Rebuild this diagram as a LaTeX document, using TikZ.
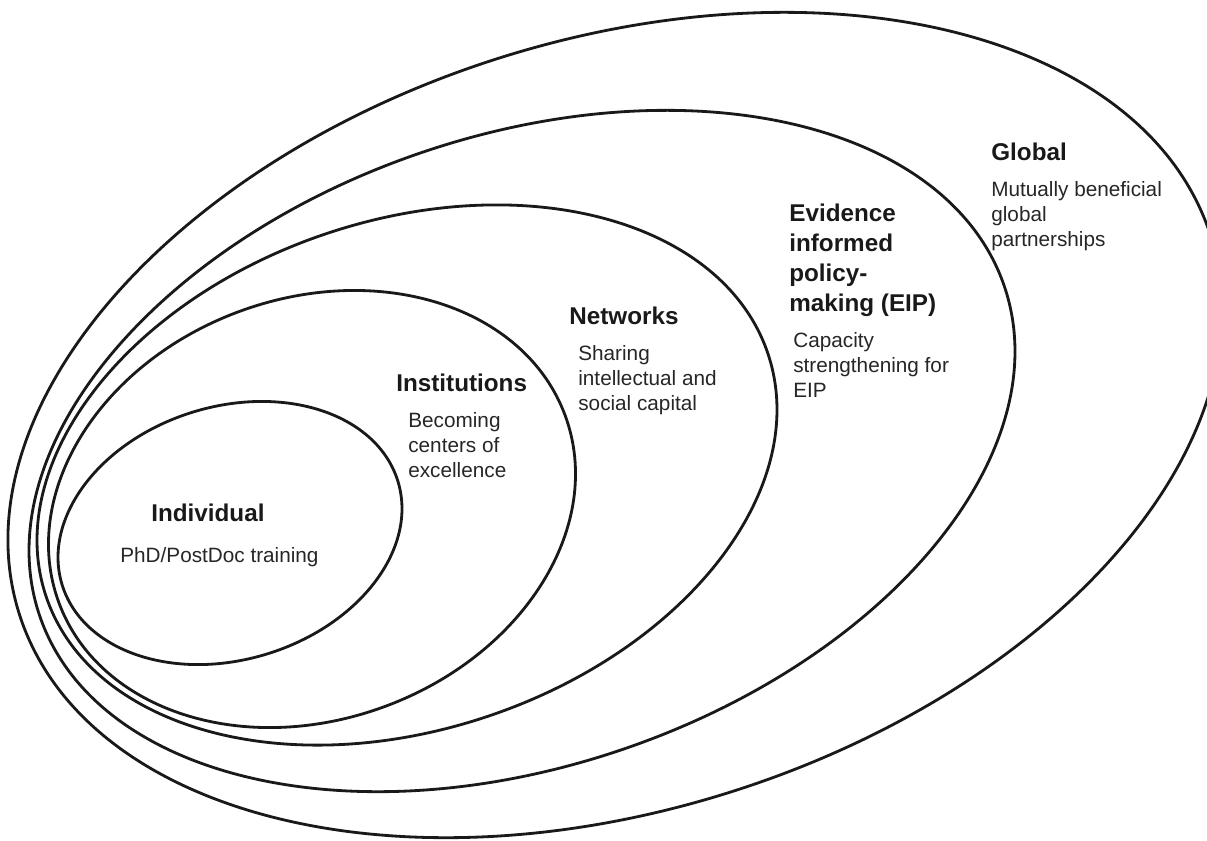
\documentclass[tikz,border=0pt]{standalone}
\usepackage{fontspec}
\setmainfont{Liberation Sans}

\begin{document}
\begin{tikzpicture}[
      x=0.02cm, y=-0.02cm,
      ring/.style={draw=black!90, line width=1.6pt},
      head/.style={font=\fontsize{13.8}{17}\selectfont\bfseries, anchor=north west,
        inner sep=0pt, align=left, text=black!90},
      body/.style={font=\fontsize{11.8}{14.2}\selectfont, anchor=north west,
        inner sep=0pt, align=left, text=black!85}
    ]
      \path[use as bounding box, clip] (0,0) rectangle (1207,840);
      % nested levels, innermost first (centre, tilt, radii in px)
      \draw[ring, rotate around={17.2:(230,533)}] (230,533) ellipse [x radius=175.7, y radius=126.5];
      \draw[ring, rotate around={20.3:(312,509)}] (312,509) ellipse [x radius=269.9, y radius=210.5];
      \draw[ring, rotate around={18.6:(407,475)}] (407,475) ellipse [x radius=380.8, y radius=254.5];
      \draw[ring, rotate around={18.9:(522,451)}] (522,451) ellipse [x radius=509.7, y radius=314.9];
      \draw[ring, rotate around={17.6:(615,425)}] (615,425) ellipse [x radius=625, y radius=384.8];
      % labels
      \node[head] (individual) at (151,504) {Individual};
      \node[body] (individualtxt) at (120,547) {PhD/PostDoc training};
      \node[head] (institutions) at (396,374) {Institutions};
      \node[body] (institutionstxt) at (408,412) {Becoming\\centers of\\excellence};
      \node[head] (networks) at (569,307) {Networks};
      \node[body] (networkstxt) at (578,345) {Sharing\\intellectual and\\social capital};
      \node[head] (eip) at (789,204) {Evidence\\informed\\policy-\\making (EIP)};
      \node[body] (eiptxt) at (793,332) {Capacity\\strengthening for\\EIP};
      \node[head] (global) at (991,143) {Global};
      \node[body] (globaltxt) at (991,181) {Mutually beneficial\\global\\partnerships};
    \end{tikzpicture}
\end{document}
